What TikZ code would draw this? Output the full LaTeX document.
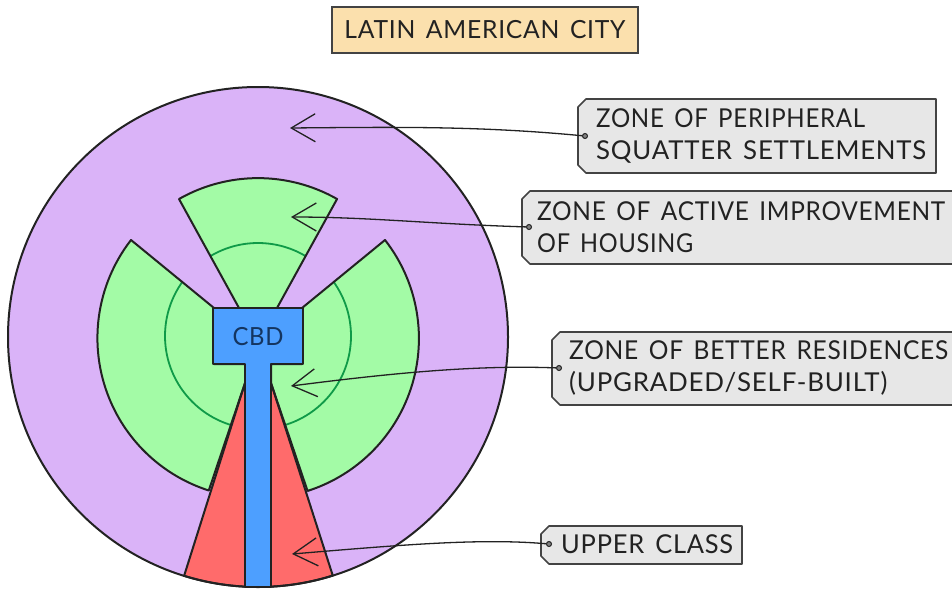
\documentclass[tikz,border=0pt]{standalone}
\usepackage{fontspec}
\usepackage{graphicx}
\setmainfont[LetterSpace=3,WordSpace=1.5]{Lato}
\usetikzlibrary{arrows.meta}
\definecolor{purplezone}{HTML}{DAB3F8}
\definecolor{greenzone}{HTML}{A3FBA6}
\definecolor{ringgreen}{HTML}{0F9A48}
\definecolor{redzone}{HTML}{FF6B6B}
\definecolor{bluezone}{HTML}{4D9FFF}
\definecolor{taggrey}{HTML}{E7E7E7}
\definecolor{titlefill}{HTML}{FBE0AD}
\definecolor{ink}{HTML}{222222}
\definecolor{cbdink}{HTML}{143560}
\newcommand{\greenzones}{%
  (214,308) -- (131,240) arc[start angle=217.8,end angle=107.7,radius=160pt] -- (245,383) -- (245,364) -- (214,364) -- cycle
  (302,308) -- (385,240) arc[start angle=-38,end angle=72.3,radius=160pt] -- (271,383) -- (271,364) -- (302,364) -- cycle
  (239,308) -- (179,199) arc[start angle=240.4,end angle=299.6,radius=160pt] -- (277,308) -- cycle}
\newcommand{\tagbox}[4]{\draw[tagshape] (#1+8,#2) -- (#3,#2) -- (#3,#4) -- (#1+8,#4) -- (#1,#4-8) -- (#1,#2+8) -- cycle;}
\newcommand{\fitline}[2]{\resizebox{#1pt}{\height}{#2}}
\tikzset{
  zoneline/.style={draw=ink,line width=2pt,line join=round},
  tagshape/.style={draw=ink!85,fill=taggrey,line width=1.6pt,line join=round},
  tagtext/.style={anchor=west,align=left,inner sep=0pt,text=ink,font=\fontsize{26}{32}\selectfont},
  pin/.style={circle,draw=ink,fill=gray,line width=1pt,inner sep=0pt,minimum size=5pt},
  pointer/.style={draw=ink,line width=1.3pt,-{Straight Barb[length=24pt,width=28pt,line width=1.3pt]}},
}
\begin{document}
\begin{tikzpicture}[x=1pt,y=1pt,yscale=-1]
\useasboundingbox (0,0) rectangle (952,589);
\clip (0,0) rectangle (952,589);
% zones
\fill[purplezone] (258,337) circle[radius=250pt];
\fill[greenzone] \greenzones;
\begin{scope}
  \clip \greenzones;
  \draw[ringgreen,line width=1.8pt] (258,336) circle[radius=93pt];
\end{scope}
\draw[zoneline,fill=redzone] (245,383) -- (184.1,575.8) arc[start angle=107.2,end angle=72.6,radius=250pt] -- (271,383) -- cycle;
\draw[zoneline] \greenzones;
\draw[zoneline] (258,337) circle[radius=250pt];
\draw[zoneline,fill=bluezone] (213,308) -- (303,308) -- (303,364) -- (271,364) -- (271,587) -- (245,587) -- (245,364) -- (213,364) -- cycle;
\node[inner sep=0pt,text=cbdink,font=\fontsize{25}{28}\selectfont] (cbd) at (258,337) {\fitline{51}{CBD}};
% title
\node[draw=ink!85,fill=titlefill,line width=1.6pt,minimum width=306pt,minimum height=46pt,inner sep=0pt,text=ink,font=\fontsize{25}{30}\selectfont] (title) at (485,30) {\fitline{281}{LATIN AMERICAN CITY}};
% labels
\tagbox{578}{99}{936}{173}
\node[tagtext] (l1) at (596,136) {\fitline{269}{ZONE OF PERIPHERAL}\\\fitline{330}{SQUATTER SETTLEMENTS}};
\tagbox{522}{191}{962}{264}
\node[tagtext] (l2) at (537,227) {\fitline{408}{ZONE OF ACTIVE IMPROVEMENT}\\\fitline{156}{OF HOUSING}};
\tagbox{552}{332}{962}{405}
\node[tagtext] (l3) at (569,368) {\fitline{379}{ZONE OF BETTER RESIDENCES}\\\fitline{318}{(UPGRADED/SELF-BUILT)}};
\tagbox{541}{526}{742}{564}
\node[tagtext] (l4) at (561,544) {\fitline{172}{UPPER CLASS}};
% pins and pointers
\node[pin] (p1) at (585,136) {};
\node[pin] (p2) at (529,227) {};
\node[pin] (p3) at (559,368) {};
\node[pin] (p4) at (549,544) {};
\coordinate (t1) at (290,128);
\coordinate (t2) at (291,217);
\coordinate (t3) at (291,386);
\coordinate (t4) at (292,554);
\draw[pointer] (p1) .. controls (480,126) and (400,127) .. (t1);
\draw[pointer] (p2) .. controls (430,224) and (370,217) .. (t2);
\draw[pointer] (p3) .. controls (480,365) and (400,372) .. (t3);
\draw[pointer] (p4) .. controls (480,538) and (400,545) .. (t4);
\end{tikzpicture}
\end{document}
